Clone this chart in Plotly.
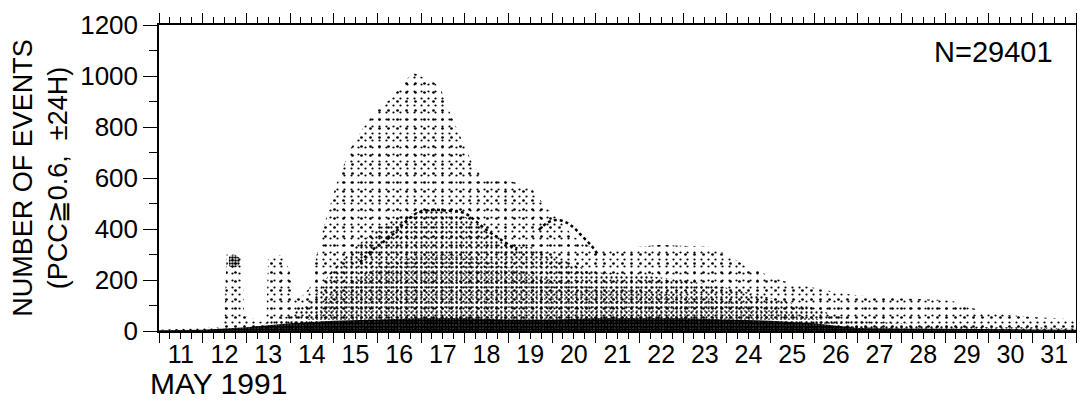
import plotly.graph_objects as go

# ---- data (days of May 1991, number of events) ----
outer_day = [11.0, 12.0, 12.45, 12.5, 12.55, 12.9, 12.95, 13.45, 13.5, 13.7, 13.9, 14.05, 14.1, 14.3,
             14.45, 14.6, 14.77, 15.07, 15.37, 15.65, 15.95, 16.27, 16.55, 16.8, 17.0, 17.3, 17.45,
             17.6, 17.87, 18.17, 18.4, 18.7, 19.0, 19.3, 19.5, 19.86, 20.1, 20.5, 21.0, 21.6, 22.0,
             22.45, 23.0, 23.6, 24.0, 24.5, 25.0, 25.37, 26.0, 26.58, 27.0, 27.5, 28.0, 28.5, 28.9,
             29.3, 29.6, 30.0, 30.4, 31.0, 31.5, 32.0]
outer_val = [5, 10, 15, 60, 300, 290, 60, 30, 280, 305, 280, 200, 130, 140,
             170, 290, 408, 580, 710, 790, 860, 905, 960, 1015, 1000, 975, 950,
             880, 775, 660, 600, 590, 590, 575, 565, 486, 447, 370, 318, 318, 330,
             337, 335, 330, 300, 250, 215, 192, 170, 149, 140, 132, 128, 125, 122,
             114, 90, 75, 63, 55, 50, 45]

mid_day = [11.0, 13.0, 14.0, 14.5, 15.0, 15.5, 16.0, 16.5, 17.0, 17.5, 18.0, 18.5, 19.0, 19.5, 20.0,
           20.5, 21.0, 22.0, 23.0, 24.0, 25.0, 26.0, 26.5, 27.0, 28.0, 29.0, 30.0, 31.0, 32.0]
mid_val = [0, 10, 60, 120, 250, 330, 400, 450, 470, 470, 450, 390, 330, 330, 300,
           260, 230, 220, 200, 170, 130, 90, 60, 40, 30, 25, 15, 15, 10]

inner_day = [13.5, 14.5, 15.0, 16.0, 17.0, 18.0, 19.0, 20.0, 21.0, 22.0, 23.0, 24.0, 25.0, 26.0,
             27.0, 28.0]
inner_val = [0, 50, 150, 250, 300, 300, 250, 200, 170, 160, 140, 120, 90, 50, 20, 0]

base_day = [11, 12, 13, 14, 15, 16, 17, 18, 19, 20, 21, 22, 23, 24, 25, 26, 27, 28, 29, 30, 31, 32]
base_val = [3, 5, 15, 30, 40, 45, 50, 50, 45, 45, 50, 50, 50, 45, 40, 30, 12, 10, 8, 6, 6, 5]

cluster_day = [12.6, 12.68, 12.76, 12.85]
cluster_top = [290, 300, 298, 285]
cluster_bot = [255, 247, 250, 262]

arc1_day = [19.7, 19.9, 20.1, 20.3, 20.5, 20.7, 20.9, 21.05]
arc1_val = [396, 425, 435, 428, 405, 370, 335, 300]
arc2_day = [15.6, 15.9, 16.3, 16.9, 17.3, 17.7, 18.0, 18.5, 19.2]
arc2_val = [270, 320, 370, 462, 475, 470, 462, 396, 318]

day_labels = [str(d) for d in range(11, 32)]
y_ticks = [0, 200, 400, 600, 800, 1000, 1200]

FONT = "Liberation Sans, Arial, Helvetica, sans-serif"


def pattern(size, solidity):
    return dict(shape=".", fgcolor="black", bgcolor="rgba(0,0,0,0)", size=size,
                solidity=solidity, fillmode="replace")


def area(x, y, pat, fill="tozeroy"):
    return go.Scatter(x=x, y=y, mode="lines", line=dict(width=0, color="black"),
                      fill=fill, fillcolor="rgba(0,0,0,0)", fillpattern=pat,
                      hoverinfo="skip", showlegend=False)


fig = go.Figure()
fig.add_trace(area(outer_day, outer_val, pattern(7, 0.08)))
fig.add_trace(area(outer_day, outer_val, pattern(9, 0.07)))
fig.add_trace(area(mid_day, mid_val, pattern(5, 0.17)))
fig.add_trace(area(inner_day, inner_val, pattern(4, 0.14)))
fig.add_trace(area(base_day, base_val, pattern(3, 0.85)))
fig.add_trace(go.Scatter(x=cluster_day, y=cluster_bot, mode="lines", line=dict(width=0, color="black"),
                         hoverinfo="skip", showlegend=False))
fig.add_trace(area(cluster_day, cluster_top, pattern(3, 0.6), fill="tonexty"))
for dx, dy in [(arc1_day, arc1_val), (arc2_day, arc2_val)]:
    fig.add_trace(go.Scatter(x=dx, y=dy, mode="lines",
                             line=dict(width=2.5, color="black", dash="dot", shape="spline"),
                             hoverinfo="skip", showlegend=False))
# invisible trace so the integer-day tick axis is drawn
fig.add_trace(go.Scatter(x=[None], y=[None], xaxis="x2", showlegend=False))

tickfont = dict(family=FONT, size=25, color="black")
# page body has an 8px default margin, so the figure is offset by 8px right and down
fig.update_layout(
    width=1077, height=399,
    margin=dict(l=151, r=9, t=17, b=76, autoexpand=False),
    paper_bgcolor="white", plot_bgcolor="white",
    font=dict(family=FONT, color="black"),
    xaxis=dict(range=[11, 32], tickmode="array", tickvals=[d + 0.5 for d in range(11, 32)],
               ticktext=day_labels, ticks="", showline=True, linecolor="black", linewidth=1.5,
               mirror="ticks", showgrid=False, zeroline=False, tickfont=tickfont,
               automargin=False, ticklabelstandoff=0,
               minor=dict(tick0=11, dtick=0.25, ticks="outside", ticklen=6, tickwidth=1,
                          tickcolor="black", showgrid=False)),
    xaxis2=dict(range=[11, 32], overlaying="x", anchor="y", side="bottom", tickmode="array",
                tickvals=list(range(11, 33)), ticks="outside", ticklen=11, tickwidth=1.3,
                tickcolor="black", showticklabels=False, showline=False, mirror="ticks",
                showgrid=False, zeroline=False, automargin=False),
    yaxis=dict(range=[0, 1200], tickmode="array", tickvals=y_ticks, ticks="outside", ticklen=14,
               tickwidth=1.3, tickcolor="black", showline=True, linecolor="black", linewidth=1.5,
               mirror="ticks", showgrid=False, zeroline=False, automargin=False,
               tickfont=dict(family=FONT, size=26, color="black"),
               minor=dict(dtick=100, ticks="outside", ticklen=8, tickwidth=1, tickcolor="black",
                          showgrid=False),
               title=dict(text="NUMBER OF EVENTS<br>(PCC≧0.6,  ±24H)",
                          font=dict(family=FONT, size=27, color="black"), standoff=15)),
    annotations=[
        dict(text="N=29401", xref="paper", yref="paper", x=0.977, y=0.912, xanchor="right",
             yanchor="middle", showarrow=False, font=dict(family=FONT, size=29, color="black")),
        dict(text="MAY 1991", xref="paper", yref="paper", x=-0.012, y=-0.17, xanchor="left",
             yanchor="middle", showarrow=False, font=dict(family=FONT, size=30, color="black")),
    ],
    shapes=[
        dict(type="line", xref="x", yref="y", x0=21, x1=21, ysizemode="pixel", yanchor=0,
             y0=0, y1=-20, line=dict(color="black", width=1.3)),
        dict(type="line", xref="x", yref="y", x0=21, x1=21, ysizemode="pixel", yanchor=1200,
             y0=0, y1=18, line=dict(color="black", width=1.3)),
    ],
)

fig.write_html("out.html")
